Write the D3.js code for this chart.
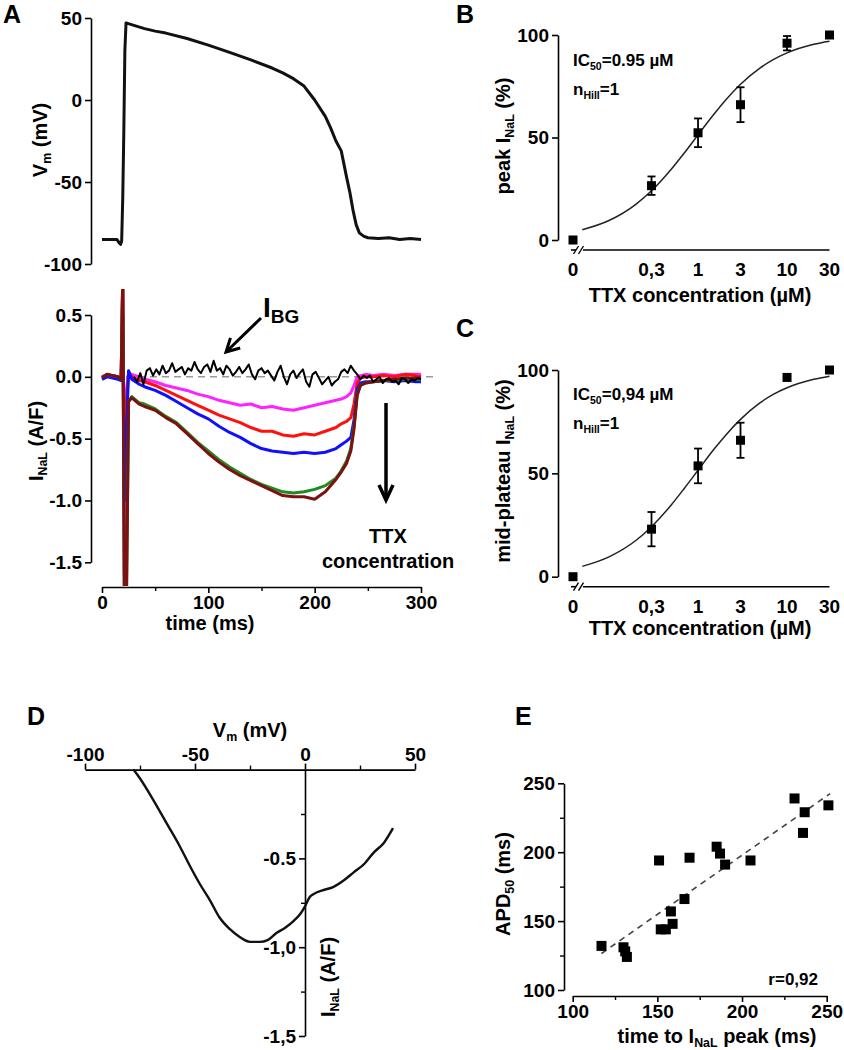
<!DOCTYPE html>
<html>
<head>
<meta charset="utf-8">
<script src="https://cdn.jsdelivr.net/npm/d3@7"></script>
<style>
body { margin: 0; background: #fff; }
svg { display: block; font-family: "Liberation Sans", Arial, sans-serif; font-weight: bold; }
</style>
</head>
<body>
<svg id="fig" width="844" height="1050"></svg>
<script>
// ---------- data ----------
// A (top): action potential
const apTime = [0, 5, 10, 14, 16, 17.5, 18.5, 19.5, 20.5, 21.5, 22.6, 30, 40, 50, 60, 80, 100, 120, 140, 160, 170, 180, 190, 200, 210, 215, 220, 225, 230, 233, 236, 239, 242, 246, 250, 260, 270, 280, 290, 300];
const apVm = [-85, -85, -85, -85, -87, -88, -86, -60, -20, 30, 47, 45.5, 43.5, 42, 40.8, 37.5, 33.5, 29, 24.5, 19.5, 16.5, 13, 8.5, 0, -10, -17, -25, -31, -47, -56, -67, -76, -81, -83, -84, -84.5, -84, -85, -84.5, -85];

// A (bottom): I_NaL traces, common time base
const iTime = [0, 5, 10, 15, 18, 19.5, 21, 23, 25, 28, 35, 40, 50, 60, 70, 80, 90, 100, 110, 120, 130, 140, 150, 160, 170, 180, 190, 200, 210, 220, 225, 230, 234, 237, 240, 243, 248, 255, 265, 275, 285, 295, 300];
const iMagenta = [0, 0.02, 0.01, 0, -0.01, 0.8, -1.6, -0.1, 0.03, 0.02, 0, -0.02, -0.04, -0.07, -0.09, -0.11, -0.14, -0.16, -0.19, -0.21, -0.23, -0.22, -0.25, -0.24, -0.26, -0.27, -0.25, -0.23, -0.21, -0.19, -0.18, -0.16, -0.13, -0.07, 0, 0.01, 0.02, 0.01, 0.02, 0.01, 0.02, 0.02, 0.02];
const iRed = [-0.01, 0.02, 0.01, 0, -0.01, 0.8, -1.0, -0.2, 0.03, 0, -0.03, -0.04, -0.07, -0.11, -0.15, -0.19, -0.23, -0.27, -0.31, -0.34, -0.37, -0.41, -0.44, -0.44, -0.47, -0.48, -0.46, -0.47, -0.44, -0.41, -0.38, -0.36, -0.33, -0.22, -0.05, -0.01, 0, 0, 0.01, 0, 0.02, 0.01, 0];
const iBlue = [-0.02, 0, -0.01, -0.02, -0.03, 0.5, -1.0, -0.45, 0.05, -0.02, -0.06, -0.08, -0.11, -0.15, -0.2, -0.25, -0.3, -0.34, -0.4, -0.45, -0.49, -0.54, -0.58, -0.6, -0.61, -0.62, -0.61, -0.62, -0.61, -0.58, -0.55, -0.52, -0.49, -0.35, -0.1, -0.05, -0.04, -0.04, -0.03, -0.04, -0.03, -0.04, -0.04];
const iGreen = [0, 0.02, 0.01, 0, -0.02, 0.8, -1.8, -1.8, -0.2, -0.16, -0.21, -0.22, -0.26, -0.32, -0.37, -0.45, -0.53, -0.6, -0.67, -0.73, -0.78, -0.83, -0.87, -0.9, -0.93, -0.94, -0.93, -0.91, -0.88, -0.82, -0.76, -0.68, -0.58, -0.4, -0.14, -0.07, -0.05, -0.04, -0.03, -0.03, -0.02, -0.02, -0.02];
const iDarkRed = [-0.01, 0.02, 0.01, 0, -0.02, 0.8, -1.8, -1.8, -0.2, -0.17, -0.22, -0.24, -0.27, -0.33, -0.38, -0.46, -0.54, -0.62, -0.69, -0.75, -0.8, -0.84, -0.88, -0.92, -0.96, -0.97, -0.97, -0.99, -0.93, -0.83, -0.77, -0.7, -0.6, -0.42, -0.15, -0.07, -0.05, -0.04, -0.03, -0.02, -0.01, -0.01, -0.01];
// background current I_BG, every 3 ms from 30 ms
const bgTime = d3.range(30, 301, 3);
const bgVal = [0.00, -0.04, 0.03, -0.06, 0.05, 0.07, 0.01, 0.06, 0.02, 0.09,
  0.03, 0.05, 0.11, 0.04, 0.06, 0.08, 0.02, 0.07, 0.05, 0.12,
  0.06, 0.03, 0.08, 0.10, 0.04, 0.13, 0.05, 0.07, 0.02, 0.09,
  0.06, 0.01, 0.04, 0.08, 0.03, 0.06, 0.10, 0.02, -0.02, 0.05,
  0.07, 0.03, 0.05, 0.01, -0.03, 0.04, 0.09, 0.00, -0.06, 0.02,
  0.05, -0.01, 0.03, 0.06, -0.04, -0.08, 0.02, 0.04, -0.01, -0.06,
  -0.03, 0.00, -0.07, -0.04, -0.02, 0.04, 0.06, 0.03, 0.09, 0.05,
  0.02, -0.02, 0.01, -0.01, 0.01, -0.04, -0.02, 0.00, -0.05, -0.02,
  -0.01, -0.04, -0.03, -0.06, -0.01, -0.02, -0.05, -0.02, -0.03, -0.01,
  -0.02];

// B and C: TTX dose response
const ttxConc = [0, 0.3, 1, 3, 10, 30];
const ttxLabels = ["0", "0,3", "1", "3", "10", "30"];
const peakMean = [0, 26.5, 52.3, 66, 96, 100];
const peakErr = [0, 4.5, 7, 8.5, 3.5, 0];
const midMean = [0, 23, 53.6, 66, 96.4, 100];
const midErr = [0, 8.3, 8.4, 8.5, 1, 0];
// fitted Hill curves
const fitConc = [0.05, 0.1, 0.2, 0.3, 0.5, 0.7, 1, 1.5, 2, 3, 5, 7, 10, 20, 30];
const fitPeak = [5, 9.5, 17.4, 24, 34.5, 42.4, 51.3, 61.2, 67.8, 76, 84, 88, 91.3, 95.5, 97];
const fitMid = [5, 9.6, 17.5, 24.2, 34.7, 42.7, 51.5, 61.5, 68, 76.1, 84.2, 88.2, 91.4, 95.5, 97];

// D: I-V relation
const ivVm = [-78, -75, -69, -63, -57, -52, -48, -43, -39, -34, -30, -25, -20.5, -17, -13, -9, -5, -2, 0, 2, 4, 8, 13, 18, 22, 27, 31, 36, 40];
const ivI = [0, -0.05, -0.17, -0.30, -0.43, -0.55, -0.64, -0.74, -0.83, -0.9, -0.94, -0.97, -0.97, -0.96, -0.92, -0.89, -0.85, -0.81, -0.77, -0.72, -0.7, -0.68, -0.66, -0.62, -0.58, -0.53, -0.47, -0.41, -0.33];

// E: APD50 vs time to peak
const tPeak = [117, 130, 131, 132, 151, 152, 155, 158, 159, 166, 169, 185, 187, 190, 205, 231, 236, 237, 251];
const apd50 = [132, 131, 128, 124, 194, 144, 144, 157, 148, 166, 196, 204, 199, 191, 194, 239, 214, 229, 234];
const regX = [117, 252];
const regY = [126.5, 242.5];

// ---------- drawing ----------
const svg = d3.select("#fig");
const TICK = 19, TITLE = 20;

function styleAxis(g, size) {
  g.attr("font-family", null).attr("font-size", size || TICK).attr("font-weight", "bold");
  g.selectAll("path, line").attr("stroke", "#000").attr("stroke-width", 1.6);
  return g;
}
function minorAxis(g) {
  g.selectAll("text").remove();
  g.select(".domain").remove();
  g.selectAll("line").attr("stroke", "#000").attr("stroke-width", 1.4);
}
// text with subscripts; parts = [[text, isSub], ...]
function rich(x, y, parts, size, opts) {
  opts = opts || {};
  const t = svg.append("text")
    .attr("font-size", size)
    .attr("text-anchor", opts.anchor || "start");
  if (opts.rotate) t.attr("transform", `translate(${x},${y}) rotate(-90)`);
  else t.attr("x", x).attr("y", y);
  let shifted = false;
  parts.forEach(p => {
    const s = t.append("tspan").text(p[0]);
    if (p[1]) {
      s.attr("font-size", size * 0.62).attr("dy", size * 0.22);
      shifted = true;
    } else if (shifted) {
      s.attr("dy", -size * 0.22);
      shifted = false;
    }
  });
  return t;
}
function arrow(x1, y1, x2, y2, len, half, w) {
  const a = Math.atan2(y2 - y1, x2 - x1);
  const p = (ang, l) => [x2 - l * Math.cos(a + ang), y2 - l * Math.sin(a + ang)];
  const h = Math.atan2(half, len);
  const L = Math.hypot(half, len);
  svg.append("line").attr("x1", x1).attr("y1", y1).attr("x2", x2).attr("y2", y2)
    .attr("stroke", "#000").attr("stroke-width", w);
  const p1 = p(h, L), p2 = p(-h, L);
  svg.append("path").attr("d", `M${p1}L${x2},${y2}L${p2}`)
    .attr("fill", "none").attr("stroke", "#000").attr("stroke-width", w)
    .attr("stroke-linejoin", "miter");
}
const zip = (a, b) => a.map((v, i) => [v, b[i]]);

// ===== Panel A top =====
const xA = d3.scaleLinear().domain([0, 300]).range([102, 421]);
const yV = d3.scaleLinear().domain([-100, 50]).range([264, 18]);
styleAxis(svg.append("g").attr("transform", "translate(91,0)")
  .call(d3.axisLeft(yV).tickValues([-100, -50, 0, 50]).tickSize(6).tickSizeOuter(0).tickFormat(d => String(d))));
svg.append("path")
  .attr("d", d3.line().x(d => xA(d[0])).y(d => yV(d[1]))(zip(apTime, apVm)))
  .attr("fill", "none").attr("stroke", "#111").attr("stroke-width", 3).attr("stroke-linejoin", "round");
rich(47, 140, [["V"], ["m", true], [" (mV)"]], TITLE, { rotate: true, anchor: "middle" });
svg.append("text").attr("x", 3).attr("y", 23).attr("font-size", 25).text("A");

// ===== Panel A bottom =====
const yI = d3.scaleLinear().domain([-1.5, 0.5]).range([562.3, 315]);
styleAxis(svg.append("g").attr("transform", "translate(91,0)")
  .call(d3.axisLeft(yI).tickValues([0.5, 0, -0.5, -1, -1.5]).tickSize(6).tickSizeOuter(0).tickFormat(d => d.toFixed(1))));
styleAxis(svg.append("g").attr("transform", "translate(0,587)")
  .call(d3.axisBottom(xA).tickValues([0, 100, 200, 300]).tickSize(6).tickSizeOuter(0).tickFormat(d => String(d))));
minorAxis(svg.append("g").attr("transform", "translate(0,587)")
  .call(d3.axisBottom(xA).tickValues([50, 150, 250]).tickSize(4)));

svg.append("line").attr("x1", xA(0)).attr("x2", 438).attr("y1", yI(0)).attr("y2", yI(0))
  .attr("stroke", "#999").attr("stroke-width", 1.5).attr("stroke-dasharray", "7,5");

svg.append("clipPath").attr("id", "clipI").append("rect")
  .attr("x", 92).attr("y", 289).attr("width", 345).attr("height", 297);
const traces = svg.append("g").attr("clip-path", "url(#clipI)");
const lineI = d3.line().x(d => xA(d[0])).y(d => yI(d[1]));
const series = [
  { v: iMagenta, c: "#ff22ff" },
  { v: iRed, c: "#ff1010" },
  { v: iBlue, c: "#1010ff" },
  { v: iGreen, c: "#1f8a1f" },
  { v: iDarkRed, c: "#7d1010" }
];
series.forEach(s => {
  traces.append("path").attr("d", lineI(zip(iTime, s.v)))
    .attr("fill", "none").attr("stroke", s.c).attr("stroke-width", 3).attr("stroke-linejoin", "round");
});
traces.append("path").attr("d", lineI(zip(bgTime, bgVal)))
  .attr("fill", "none").attr("stroke", "#000").attr("stroke-width", 2).attr("stroke-linejoin", "round");

rich(43, 441, [["I"], ["NaL", true], [" (A/F)"]], TITLE, { rotate: true, anchor: "middle" });
svg.append("text").attr("x", 210).attr("y", 630).attr("text-anchor", "middle").attr("font-size", TITLE).text("time (ms)");

// I_BG label and arrows
const ibg = svg.append("text").attr("x", 263).attr("y", 317).attr("font-size", 28);
ibg.append("tspan").text("I");
ibg.append("tspan").attr("font-size", 19).attr("dy", 6).text("BG");
arrow(261, 318, 226, 352, 13, 7, 3);
arrow(386, 403, 386, 500, 15, 7, 3.5);
svg.append("text").attr("x", 388).attr("y", 543).attr("text-anchor", "middle").attr("font-size", TITLE).text("TTX");
svg.append("text").attr("x", 388).attr("y", 568).attr("text-anchor", "middle").attr("font-size", TITLE).text("concentration");

// ===== Panels B and C =====
const xT = d3.scaleLog().domain([0.3, 30]).range([651.5, 829.5]);
const zeroX = 573;
const cx = c => (c === 0 ? zeroX : xT(c));

function dosePanel(yScale, axisY, mean, err, fit, ic50Text, textY, yLabel, labelY, titleY, letterY, letter) {
  styleAxis(svg.append("g").attr("transform", "translate(558,0)")
    .call(d3.axisLeft(yScale).tickValues([0, 50, 100]).tickSize(6).tickSizeOuter(0).tickFormat(d => String(d))));
  // x axis with break
  svg.append("line").attr("x1", 583).attr("x2", xT(30)).attr("y1", axisY).attr("y2", axisY)
    .attr("stroke", "#000").attr("stroke-width", 1.6);
  svg.append("line").attr("x1", 571).attr("x2", 576).attr("y1", axisY).attr("y2", axisY)
    .attr("stroke", "#000").attr("stroke-width", 1.6);
  [576, 581].forEach(bx => {
    svg.append("line").attr("x1", bx - 2.5).attr("x2", bx + 2.5).attr("y1", axisY + 4).attr("y2", axisY - 4)
      .attr("stroke", "#000").attr("stroke-width", 1.4);
  });
  svg.append("g").selectAll("text").data(ttxConc).join("text")
    .attr("x", d => cx(d)).attr("y", axisY + 26).attr("text-anchor", "middle")
    .attr("font-size", TICK).text((d, i) => ttxLabels[i]);

  // fitted curve
  svg.append("path")
    .attr("d", d3.line().curve(d3.curveMonotoneX).x(d => xT(d[0])).y(d => yScale(d[1]))(zip(fitConc, fit)))
    .attr("fill", "none").attr("stroke", "#222").attr("stroke-width", 1.5);

  // error bars and markers
  const pts = ttxConc.map((c, i) => ({ c, m: mean[i], e: err[i] }));
  const eb = svg.append("g").attr("stroke", "#000").attr("stroke-width", 1.8);
  pts.filter(d => d.e > 0).forEach(d => {
    const x = cx(d.c);
    eb.append("line").attr("x1", x).attr("x2", x).attr("y1", yScale(d.m - d.e)).attr("y2", yScale(d.m + d.e));
    [d.m - d.e, d.m + d.e].forEach(v => {
      eb.append("line").attr("x1", x - 4).attr("x2", x + 4).attr("y1", yScale(v)).attr("y2", yScale(v));
    });
  });
  svg.append("g").selectAll("rect").data(pts).join("rect")
    .attr("x", d => cx(d.c) - 4.5).attr("y", d => yScale(d.m) - 4.5)
    .attr("width", 9).attr("height", 9).attr("fill", "#000");

  rich(573, textY, [["IC"], ["50", true], [ic50Text]], 17);
  rich(573, textY + 29, [["n"], ["Hill", true], ["=1"]], 17);
  rich(510, labelY, yLabel, TITLE, { rotate: true, anchor: "middle" });
  rich(700, titleY, [["TTX concentration (µM)"]], TITLE, { anchor: "middle" });
  svg.append("text").attr("x", 456).attr("y", letterY).attr("font-size", 25).text(letter);
}

const yB = d3.scaleLinear().domain([0, 100]).range([240, 35]);
dosePanel(yB, 250, peakMean, peakErr, fitPeak, "=0.95 µM", 66,
  [["peak I"], ["NaL", true], [" (%)"]], 136, 302, 23, "B");
const yC = d3.scaleLinear().domain([0, 100]).range([576.7, 370]);
dosePanel(yC, 586.7, midMean, midErr, fitMid, "=0,94 µM", 400,
  [["mid-plateau I"], ["NaL", true], [" (%)"]], 471, 635, 337, "C");

// ===== Panel D =====
const xD = d3.scaleLinear().domain([-100, 50]).range([85, 415]);
const yD = d3.scaleLinear().domain([-1.5, 0]).range([1036, 769.6]);
styleAxis(svg.append("g").attr("transform", `translate(0,${yD(0)})`)
  .call(d3.axisTop(xD).tickValues([-100, -50, 0, 50]).tickSize(6).tickSizeOuter(0).tickFormat(d => String(d))));
minorAxis(svg.append("g").attr("transform", `translate(0,${yD(0)})`)
  .call(d3.axisTop(xD).tickValues([-75, -25, 25]).tickSize(4)));
const dFmt = { "-0.5": "-0.5", "-1": "-1,0", "-1.5": "-1,5" };
styleAxis(svg.append("g").attr("transform", `translate(${xD(0)},0)`)
  .call(d3.axisLeft(yD).tickValues([-0.5, -1, -1.5]).tickSize(6).tickSizeOuter(0).tickFormat(d => dFmt[String(d)])));
minorAxis(svg.append("g").attr("transform", `translate(${xD(0)},0)`)
  .call(d3.axisLeft(yD).tickValues([-0.25, -0.75, -1.25]).tickSize(4)));
svg.append("path")
  .attr("d", d3.line().curve(d3.curveMonotoneX).x(d => xD(d[0])).y(d => yD(d[1]))(zip(ivVm, ivI)))
  .attr("fill", "none").attr("stroke", "#111").attr("stroke-width", 2.4).attr("stroke-linejoin", "round");
rich(250, 737, [["V"], ["m", true], [" (mV)"]], TITLE, { anchor: "middle" });
rich(335, 977, [["I"], ["NaL", true], [" (A/F)"]], TITLE, { rotate: true, anchor: "middle" });
svg.append("text").attr("x", 27).attr("y", 725).attr("font-size", 25).text("D");

// ===== Panel E =====
const xE = d3.scaleLinear().domain([100, 250]).range([572.7, 826.7]);
const yE = d3.scaleLinear().domain([100, 250]).range([990, 783.3]);
styleAxis(svg.append("g").attr("transform", "translate(0,996)")
  .call(d3.axisBottom(xE).tickValues([100, 150, 200, 250]).tickSize(6).tickSizeOuter(0)));
minorAxis(svg.append("g").attr("transform", "translate(0,996)")
  .call(d3.axisBottom(xE).tickValues([125, 175, 225]).tickSize(4)));
styleAxis(svg.append("g").attr("transform", "translate(564,0)")
  .call(d3.axisLeft(yE).tickValues([100, 150, 200, 250]).tickSize(6).tickSizeOuter(0)));
minorAxis(svg.append("g").attr("transform", "translate(564,0)")
  .call(d3.axisLeft(yE).tickValues([125, 175, 225]).tickSize(4)));
svg.append("line")
  .attr("x1", xE(regX[0])).attr("y1", yE(regY[0])).attr("x2", xE(regX[1])).attr("y2", yE(regY[1]))
  .attr("stroke", "#444").attr("stroke-width", 1.6).attr("stroke-dasharray", "6,5");
svg.append("g").selectAll("rect").data(zip(tPeak, apd50)).join("rect")
  .attr("x", d => xE(d[0]) - 5).attr("y", d => yE(d[1]) - 5)
  .attr("width", 10).attr("height", 10).attr("fill", "#000");
svg.append("text").attr("x", 818).attr("y", 985).attr("text-anchor", "end").attr("font-size", 17).text("r=0,92");
rich(510, 884, [["APD"], ["50", true], [" (ms)"]], TITLE, { rotate: true, anchor: "middle" });
rich(717, 1043, [["time to I"], ["NaL", true], [" peak (ms)"]], TITLE, { anchor: "middle" });
svg.append("text").attr("x", 515).attr("y", 725).attr("font-size", 25).text("E");
</script>
</body>
</html>
